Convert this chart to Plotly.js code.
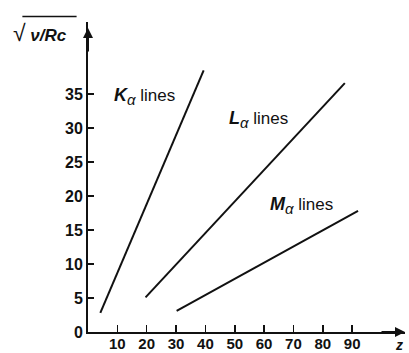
<!DOCTYPE html>
<html><head><meta charset="utf-8">
<script src="https://cdn.plot.ly/plotly-3.0.1.min.js"></script>
<style>html,body{margin:0;padding:0;background:#fff}</style>
</head><body><div id="chart" style="width:409px;height:353px"></div>
<script>
// Data (Moseley plot, schematic)
const kZ = [4.2, 39.4];
const kY = [2.8, 38.5];
const lZ = [19.6, 87.5];
const lY = [5.1, 36.6];
const mZ = [30.2, 92.0];
const mY = [3.1, 17.8];
const xTicks = [10, 20, 30, 40, 50, 60, 70, 80, 90];
const yTicks = [0, 5, 10, 15, 20, 25, 30, 35];
const letters = ["K", "L", "M"];
const labelZ = [19.3, 58.2, 72.6];
const labelY = [34.6, 31.2, 18.6];

const F = "Liberation Sans, Arial, Helvetica, sans-serif";
const lineStyle = {color: "#111", width: 2};
const traces = [
  {x: kZ, y: kY, mode: "lines", line: lineStyle, name: "K"},
  {x: lZ, y: lY, mode: "lines", line: lineStyle, name: "L"},
  {x: mZ, y: mY, mode: "lines", line: lineStyle, name: "M"}
];
const annotations = labelZ.map((z, i) => ({
  x: z, y: labelY[i], xref: "x", yref: "y", showarrow: false,
  text: "<b><i><span style='font-size:18px'>" + letters[i] + "</span></i></b><sub><i><span style='font-size:15px'>α</span></i></sub> lines",
  font: {family: F, size: 17, color: "#111"}
}));
// axis arrowheads
annotations.push({x: 108, y: 0, xref: "x", yref: "y", ax: -25, ay: 0, showarrow: true,
  arrowhead: 2, arrowsize: 1, arrowwidth: 2, arrowcolor: "#111", text: ""});
annotations.push({x: 0, y: 44.7, xref: "x", yref: "y", ax: 0, ay: 25, showarrow: true,
  arrowhead: 2, arrowsize: 1, arrowwidth: 2, arrowcolor: "#111", text: ""});
// axis titles
annotations.push({x: -0.243, y: 0.965, xref: "paper", yref: "paper", xanchor: "left", yanchor: "middle",
  showarrow: false, text: "<span style='font-size:23px'>√</span><b><i> ν/Rc</i></b>", font: {family: F, size: 17, color: "#111"}});
annotations.push({x: 106, y: 0, xref: "x", yref: "y", xanchor: "center", yanchor: "middle", yshift: -13,
  borderpad: 0, showarrow: false, text: "z", font: {family: F, size: 14, color: "#111", weight: "bold", style: "italic"}});

const layout = {
  width: 409, height: 353,
  margin: {l: 88, r: 4, t: 22, b: 21},
  paper_bgcolor: "#fff", plot_bgcolor: "#fff",
  showlegend: false,
  font: {family: F, color: "#111"},
  xaxis: {range: [0, 108], tickvals: xTicks, ticktext: xTicks.map(String),
    showgrid: false, zeroline: false, showline: true, linecolor: "#111", linewidth: 2,
    ticks: "inside", ticklen: 7, tickwidth: 1.5, tickcolor: "#111", ticklabelstandoff: -3,
    tickfont: {family: F, size: 15, color: "#111", weight: "bold"}, fixedrange: true},
  yaxis: {range: [0, 45.6], tickvals: yTicks, ticktext: yTicks.map(String),
    showgrid: false, zeroline: false, showline: true, linecolor: "#111", linewidth: 2,
    ticks: "inside", ticklen: 6, tickwidth: 1.5, tickcolor: "#111",
    tickfont: {family: F, size: 16, color: "#111", weight: "bold"}, fixedrange: true},
  annotations: annotations,
  shapes: [{type: "line", xref: "paper", yref: "paper", x0: -0.207, x1: -0.036, y0: 1.018, y1: 1.018,
    line: {color: "#111", width: 1.5}}]
};
Plotly.newPlot("chart", traces, layout, {displayModeBar: false, staticPlot: true});
</script></body></html>
